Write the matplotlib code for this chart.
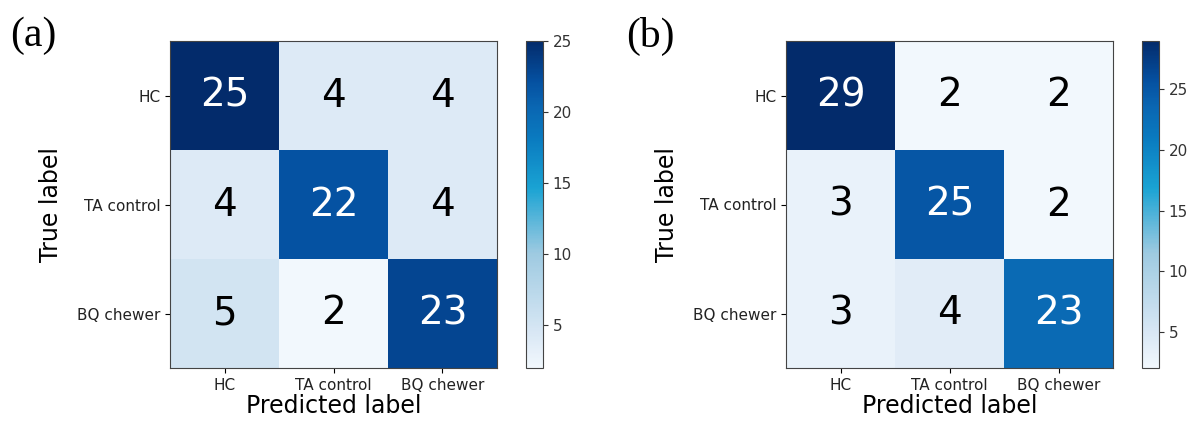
import numpy as np
import matplotlib.pyplot as plt
from matplotlib.colors import LinearSegmentedColormap

# Konfusionsmatriser (a) och (b)
labels = ['HC', 'TA control', 'BQ chewer']
cm_a = np.array([[25, 4, 4],
                 [4, 22, 4],
                 [5, 2, 23]])
cm_b = np.array([[29, 2, 2],
                 [3, 25, 2],
                 [3, 4, 23]])
panel_tags = ['(a)', '(b)']
cbar_ticks = [5, 10, 15, 20, 25]

# Blå färgskala, lite mer cyan i mitten som i originalet
cmap = LinearSegmentedColormap.from_list('blues_c', [
    (0.0, '#f2f8fd'), (0.1, '#dae8f5'), (0.35, '#9ecae1'),
    (0.55, '#1aa3d3'), (0.7, '#0a7bc0'), (0.8, '#0a66b2'),
    (0.88, '#0550a0'), (1.0, '#032b6b')])

fig = plt.figure(figsize=(11.92, 4.21), dpi=100)
W, H = 1192, 421

def draw(cm, ax_left, cb_left, tag, tag_x):
    ax = fig.add_axes([ax_left / W, 53 / H, 327 / W, 327 / H])
    cax = fig.add_axes([cb_left / W, 53 / H, 17 / W, 327 / H])
    im = ax.imshow(cm, cmap=cmap, vmin=cm.min(), vmax=cm.max())
    cb = fig.colorbar(im, cax=cax, ticks=cbar_ticks)
    cb.ax.tick_params(labelsize=11, colors='#333333')
    cb.outline.set_edgecolor('#444444')
    thresh = (cm.max() + cm.min()) / 2
    for i in range(cm.shape[0]):
        for j in range(cm.shape[1]):
            ax.text(j, i, str(cm[i, j]), ha='center', va='center', fontsize=28,
                    color='white' if cm[i, j] > thresh else 'black')
    ax.set_xticks(range(3))
    ax.set_yticks(range(3))
    ax.set_xticklabels(labels, fontsize=11, color='#222222')
    ax.set_yticklabels(labels, fontsize=11, color='#222222')
    ax.set_xlabel('Predicted label', fontsize=17, labelpad=1)
    ax.set_ylabel('True label', fontsize=17, labelpad=10)
    for s in ax.spines.values():
        s.set_edgecolor('#444444')
    fig.text(tag_x / W, 1 - 36 / H, tag, fontsize=30, family='Liberation Serif',
             ha='left', va='center')

draw(cm_a, 170, 526, panel_tags[0], 10)
draw(cm_b, 786, 1142, panel_tags[1], 626)

plt.savefig('out.png', dpi=100)
